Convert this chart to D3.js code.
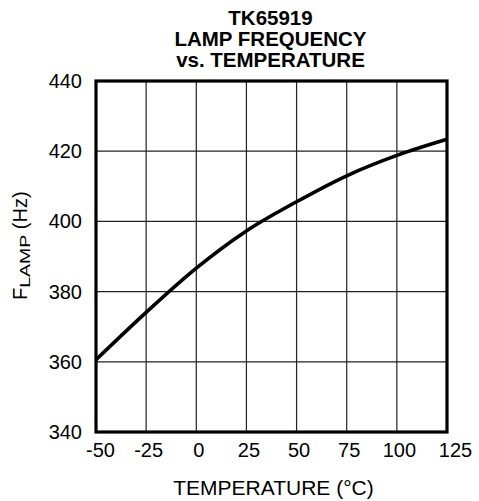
<!DOCTYPE html>
<html><head><meta charset="utf-8">
<script src="https://cdn.jsdelivr.net/npm/d3@7"></script>
<style>body{margin:0;background:#fff}svg{display:block}text{font-family:"Liberation Sans",Arial,sans-serif;fill:#000}</style>
</head><body><svg id="c" width="479" height="501"></svg>
<script>
const temps = [-50, -25, 0, 25, 50, 75, 100, 125];
const freqs = [360.6, 374.1, 386.7, 397.3, 405.6, 413.0, 418.8, 423.4];
const xTicks = [-50, -25, 0, 25, 50, 75, 100, 125];
const yTicks = [340, 360, 380, 400, 420, 440];
const titleLines = ["TK65919", "LAMP FREQUENCY", "vs. TEMPERATURE"];

const svg = d3.select("#c");
const L = 96, R = 447, T = 81, B = 432;
const x = d3.scaleLinear().domain([-50, 125]).range([L, R]);
const y = d3.scaleLinear().domain([340, 440]).range([B, T]);

// grid
const g = svg.append("g");
g.selectAll("line.vx").data(xTicks.slice(1, -1)).join("line")
  .attr("x1", d => x(d)).attr("x2", d => x(d)).attr("y1", T).attr("y2", B)
  .attr("stroke", "#222").attr("stroke-width", 1.2);
g.selectAll("line.hy").data(yTicks.slice(1, -1)).join("line")
  .attr("x1", L).attr("x2", R).attr("y1", d => y(d)).attr("y2", d => y(d))
  .attr("stroke", "#222").attr("stroke-width", 1.2);

// curve
const line = d3.line().x((d, i) => x(temps[i])).y(d => y(d)).curve(d3.curveMonotoneX);
svg.append("path").attr("d", line(freqs)).attr("fill", "none")
  .attr("stroke", "#000").attr("stroke-width", 3.6);

// frame
svg.append("rect").attr("x", L).attr("y", T).attr("width", R - L).attr("height", B - T)
  .attr("fill", "none").attr("stroke", "#000").attr("stroke-width", 3.2);

// axes labels via d3 axes (no domain/ticks lines)
const xa = svg.append("g").attr("transform", `translate(0,${B})`)
  .call(d3.axisBottom(x).tickValues(xTicks).tickSize(0).tickPadding(11).tickFormat(d => String(d)));
xa.select(".domain").remove();
xa.selectAll("text").attr("font-size", 20).attr("font-family", "Liberation Sans, Arial, sans-serif").attr("fill", "#000")
  .attr("dx", d => d === 125 ? 8 : (d === -50 ? 4 : 2));

const ya = svg.append("g").attr("transform", `translate(${L},0)`)
  .call(d3.axisLeft(y).tickValues(yTicks).tickSize(0).tickPadding(14).tickFormat(d => String(d)));
ya.select(".domain").remove();
ya.selectAll("text").attr("font-size", 20).attr("font-family", "Liberation Sans, Arial, sans-serif").attr("fill", "#000");

// title
svg.append("g").selectAll("text").data(titleLines).join("text")
  .attr("x", 270.5).attr("y", (d, i) => 25 + i * 21)
  .attr("text-anchor", "middle").attr("font-weight", "bold").attr("font-size", 20.5)
  .text(d => d);

// x axis title
svg.append("text").attr("x", 273.5).attr("y", 495).attr("text-anchor", "middle")
  .attr("font-size", 21).text("TEMPERATURE (°C)");

// y axis title
const yt = svg.append("text").attr("transform", "translate(27,300) rotate(-90)")
  .attr("text-anchor", "start").attr("font-size", 20);
yt.append("tspan").text("F");
yt.append("tspan").attr("font-size", 15).attr("dy", 2.6).attr("textLength", 53).attr("lengthAdjust", "spacingAndGlyphs").text("LAMP");
yt.append("tspan").attr("dy", -2.6).text(" (Hz)");
</script></body></html>
